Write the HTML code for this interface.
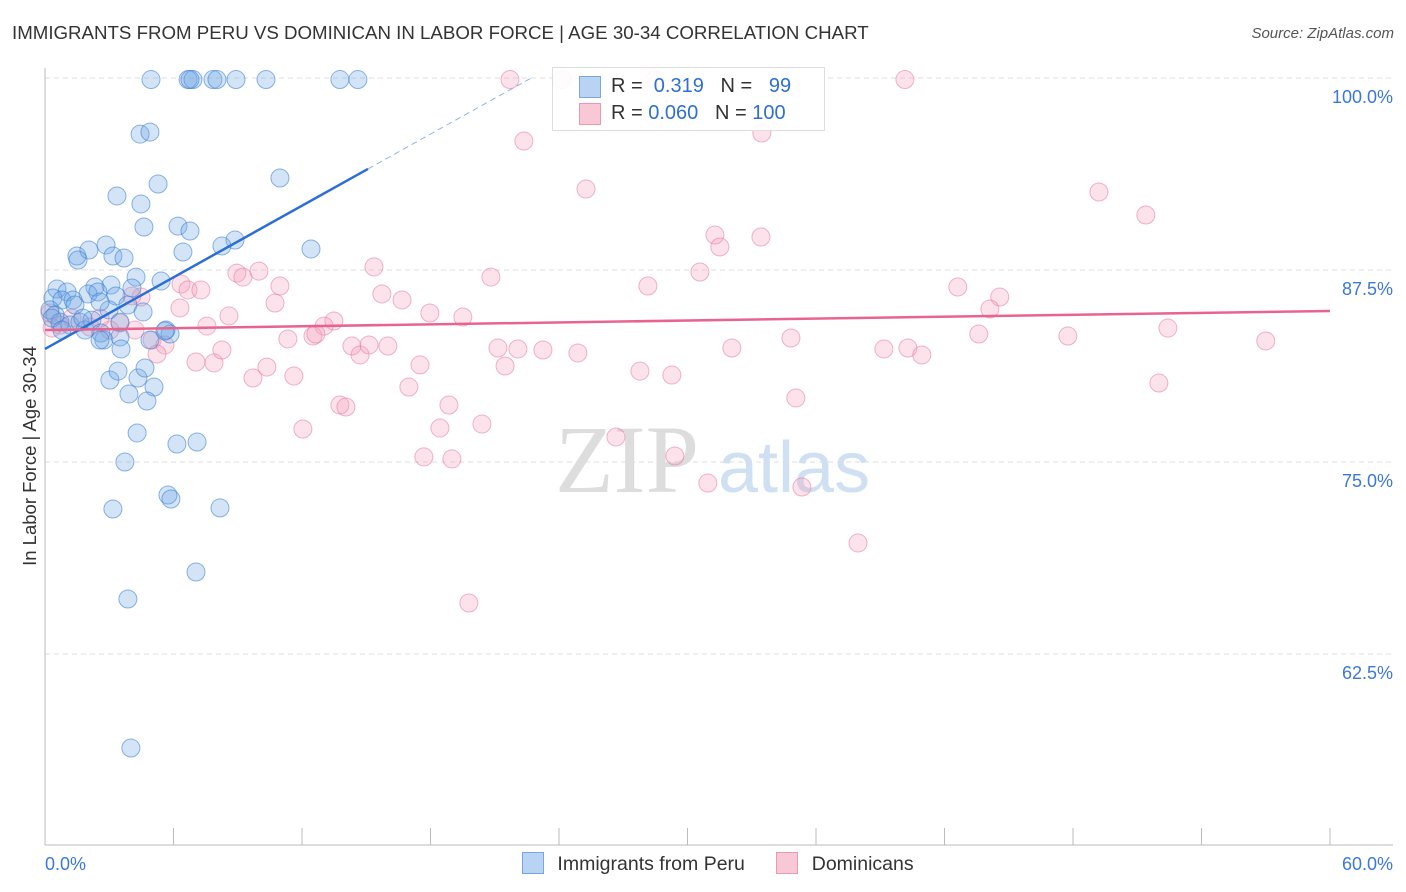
<!DOCTYPE html>
<html><head><meta charset="utf-8"><style>
body{margin:0;background:#fff;font-family:"Liberation Sans",sans-serif;}
#wrap{position:relative;width:1406px;height:892px;overflow:hidden;}
.t{position:absolute;white-space:nowrap;}
</style></head><body>
<div id="wrap">
<div class="t" style="left:12px;top:22px;font-size:18.7px;color:#333;">IMMIGRANTS FROM PERU VS DOMINICAN IN LABOR FORCE | AGE 30-34 CORRELATION CHART</div>
<div class="t" style="right:12px;top:25px;font-size:15px;color:#555;font-style:italic;">Source: ZipAtlas.com</div>
<svg id="svg" width="1406" height="892" style="position:absolute;left:0;top:0">
<text x="555" y="492" font-size="96" fill="#ddd" font-family="Liberation Serif,serif">ZIP</text>
<text x="718" y="492" font-size="72" fill="#cfe0f3" font-family="Liberation Sans,sans-serif">atlas</text>
</svg>
<div class="t" style="left:-95px;top:445px;font-size:18.5px;color:#333;transform:rotate(-90deg);transform-origin:center;width:250px;text-align:center;">In Labor Force | Age 30-34</div>
<div style="position:absolute;left:552px;top:67px;width:271px;height:62px;border:1px solid #ddd;background:rgba(255,255,255,0.9);font-size:20px;">
<div style="position:absolute;left:26px;top:8px;width:20px;height:20px;background:#b8d3f3;border:1px solid #7aa6e0;"></div>
<div class="t" style="left:58px;top:7px;color:#333;">R = &nbsp;<span style="color:#2f6fd1">0.319</span>&nbsp;&nbsp; N = &nbsp;&nbsp;<span style="color:#2f6fd1">99</span></div>
<div style="position:absolute;left:26px;top:35px;width:20px;height:20px;background:#f8c8d6;border:1px solid #e99ab3;"></div>
<div class="t" style="left:58px;top:34px;color:#333;">R = <span style="color:#2f6fd1">0.060</span>&nbsp;&nbsp; N = <span style="color:#2f6fd1">100</span></div>
</div>
<div style="position:absolute;left:522px;top:852px;font-size:19.5px;color:#333;">
<span style="display:inline-block;width:20px;height:20px;background:#b8d3f3;border:1px solid #7aa6e0;vertical-align:-4px;"></span>
<span style="margin-left:8px;">Immigrants from Peru</span>
<span style="display:inline-block;width:20px;height:20px;background:#f8c8d6;border:1px solid #e99ab3;vertical-align:-4px;margin-left:26px;"></span>
<span style="margin-left:8px;">Dominicans</span>
</div>
</div>
<script>
const yTicks=[100,87.5,75,62.5];
const yTickLabels=["100.0%","87.5%","75.0%","62.5%"];
const xTicks=[0,6,12,18,24,30,36,42,48,54,60];
const xEndLabels=["0.0%","60.0%"];
const peruX=[4.95,6.68,6.91,7.84,8.03,8.92,10.32,13.77,14.61,6.77,4.44,4.90,3.36,5.28,4.48,4.62,6.21,6.77,8.87,8.26,10.97,12.42,6.44,2.85,1.49,2.05,1.54,3.17,3.69,4.25,5.42,3.08,2.33,0.56,1.03,0.37,0.79,1.31,2.01,2.47,3.31,3.87,2.99,4.06,2.57,0.23,0.47,0.70,1.17,1.63,1.87,2.19,2.61,2.75,3.50,3.50,4.58,5.65,5.84,4.90,0.33,0.79,1.40,1.77,3.55,3.03,3.41,4.34,4.67,5.09,3.92,4.76,5.60,2.57,4.30,6.16,7.10,3.73,5.74,5.88,3.17,8.17,7.05,3.87,4.01];
const peruY=[99.9,99.9,99.9,99.9,99.9,99.9,99.9,99.9,99.9,99.9,96.35,96.48,92.32,93.10,91.80,90.30,90.36,90.04,89.45,89.06,93.49,88.87,88.67,89.13,88.41,88.80,88.15,88.41,88.28,87.04,86.78,86.52,86.39,86.26,86.07,85.68,85.55,85.55,85.94,86.07,85.81,85.22,84.90,86.33,85.42,84.90,84.57,84.11,83.92,84.11,83.59,84.24,83.40,82.94,83.14,84.11,84.77,83.59,83.33,82.94,84.37,83.59,85.22,84.37,82.36,80.34,80.92,80.47,81.12,79.88,79.43,78.97,83.53,82.94,76.89,76.17,76.30,75.00,72.85,72.59,71.94,72.01,67.84,66.08,56.38];
const domX=[21.71,24.14,28.48,40.15,22.36,33.47,25.26,49.21,51.40,31.28,31.51,33.43,8.96,9.24,9.99,10.97,15.36,20.82,30.58,28.15,42.62,44.58,44.12,6.35,6.68,7.28,4.48,4.06,15.73,16.67,10.74,6.30,8.59,17.97,19.51,7.56,13.49,13.03,5.00,5.60,11.34,12.51,12.65,14.33,14.71,16.01,15.13,21.15,22.08,23.25,24.88,32.07,34.83,39.17,40.29,40.94,43.60,47.76,52.43,57.00,5.23,7.05,7.89,8.26,10.36,9.71,11.62,17.51,21.48,27.78,29.27,16.99,52.01,35.06,13.77,14.05,18.86,12.04,18.44,20.40,26.66,17.69,19.00,29.41,30.95,35.34,37.96,19.79,3.50,3.03,2.10,2.57,0.70,1.26,0.33,0.23,4.20];
const domY=[99.9,99.9,99.9,99.9,95.90,96.42,92.77,92.58,91.08,89.78,89.00,89.65,87.30,87.04,87.43,86.46,87.70,87.04,87.37,86.46,86.39,85.74,84.96,86.59,86.20,86.20,85.74,85.81,85.94,85.55,85.35,85.03,84.51,84.70,84.44,83.85,84.18,83.85,82.94,82.62,83.01,83.20,83.33,82.55,81.97,82.55,82.62,82.42,82.36,82.29,82.10,82.42,83.07,82.36,82.42,81.97,83.33,83.20,83.72,82.88,82.03,81.51,81.45,82.29,81.18,80.47,80.60,81.32,81.25,80.92,80.66,79.88,80.14,79.17,78.71,78.58,78.71,77.15,77.21,77.47,76.63,75.33,75.20,75.39,73.63,73.37,69.73,65.82,84.05,83.59,83.79,84.37,83.92,84.37,83.72,84.70,83.59];
const peruTrend=[[0,82.36],[15.08,94.08]];
const peruTrendExt=[[15.08,94.08],[22.7,100]];
const domTrend=[[0,83.59],[60,84.83]];

const NS="http://www.w3.org/2000/svg";
const svg=document.getElementById('svg');
const X=v=>45+v*(1285/60);
const Y=v=>78+(100-v)*(192/12.5);
function mk(tag,attrs){const e=document.createElementNS(NS,tag);for(const k in attrs)e.setAttribute(k,attrs[k]);svg.appendChild(e);return e;}
yTicks.forEach((v,i)=>{
  const g=mk('line',{x1:45,x2:1393,y1:Y(v),y2:Y(v),stroke:'#ddd','stroke-dasharray':'5,4'});
  
  
  const t=mk('text',{x:1393,y:Y(v)+25,'text-anchor':'end','font-size':18,fill:'#3b78d8'});
  t.textContent=yTickLabels[i];
  
  
});
const ax=mk('line',{x1:45,x2:45,y1:68,y2:845,stroke:'#bbb'});


const bx=mk('line',{x1:45,x2:1393,y1:845,y2:845,stroke:'#bbb'});


xTicks.forEach(v=>{
  const l=mk('line',{x1:X(v),x2:X(v),y1:828,y2:845,stroke:'#bbb'});
  
  
});
[[0,'start'],[60,'end']].forEach((p,i)=>{
  const t=mk('text',{x:i?1393:45,y:870,'text-anchor':p[1],'font-size':18,fill:'#3b78d8'});
  t.textContent=xEndLabels[i];
  
  
});
function pts(xs,ys,fill,stroke,name){
  xs.forEach((v,i)=>{
    const c=mk('circle',{cx:X(v),cy:Y(ys[i]),r:9,fill:fill,stroke:stroke,'stroke-width':1});
    
    
  });
}
pts(domX,domY,'rgba(244,160,188,0.3)','rgba(230,120,155,0.55)','dominican-point');
pts(peruX,peruY,'rgba(110,165,230,0.3)','rgba(50,120,210,0.55)','peru-point');
const l1=mk('line',{x1:X(peruTrend[0][0]),y1:Y(peruTrend[0][1]),x2:X(peruTrend[1][0]),y2:Y(peruTrend[1][1]),stroke:'#2b6fd6','stroke-width':2.5});


const l2=mk('line',{x1:X(peruTrendExt[0][0]),y1:Y(peruTrendExt[0][1]),x2:X(peruTrendExt[1][0]),y2:Y(peruTrendExt[1][1]),stroke:'#8fb3e6','stroke-width':1,'stroke-dasharray':'6,4'});


const l3=mk('line',{x1:X(domTrend[0][0]),y1:Y(domTrend[0][1]),x2:X(domTrend[1][0]),y2:Y(domTrend[1][1]),stroke:'#e8648f','stroke-width':2.5});


</script>
</body></html>
